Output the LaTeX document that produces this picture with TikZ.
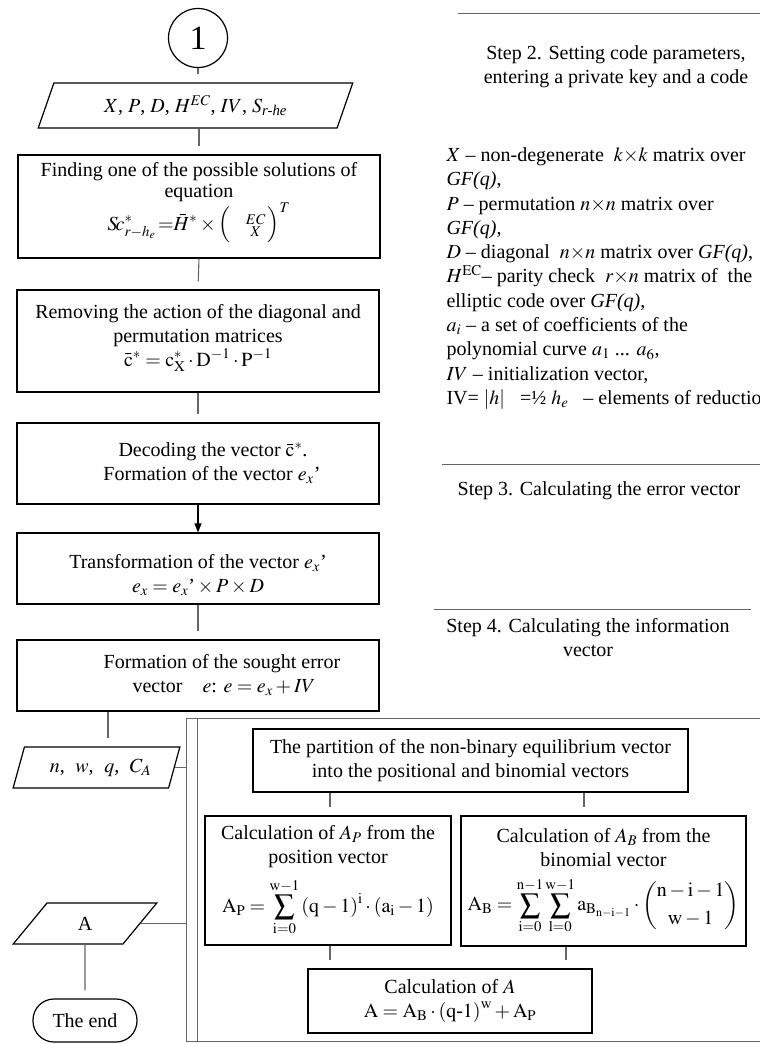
\documentclass[tikz,border=0pt]{standalone}
\usepackage{amsmath}
\usepackage{mathptmx}
\usepackage[no-math]{fontspec}
\setmainfont{Liberation Serif}
\usetikzlibrary{shapes.geometric,arrows.meta,calc}

\begin{document}
\begin{tikzpicture}[
    x=1pt,y=-1pt,
    font=\fontsize{20}{24}\selectfont,
    box/.style={draw,line width=1.2pt,minimum width=362pt,inner sep=0pt,align=center},
    subbox/.style={draw,line width=1.2pt,inner sep=0pt,align=center},
    io/.style={draw,line width=1.2pt,trapezium,trapezium left angle=64,trapezium right angle=116,
               trapezium stretches=true,inner sep=0pt},
    link/.style={draw=black!60,line width=1.1pt,shorten >=8pt},
    sidelink/.style={draw=black!60,line width=1.1pt},
    arrowline/.style={draw=black,line width=1.1pt,>={Triangle[length=9pt,width=7pt]}},
    frameline/.style={draw=black!60,line width=1pt},
    rule/.style={draw=black!60,line width=1pt},
  ]

  \useasboundingbox (0,0) rectangle (760,1044);

  % main column

  \node (start) at (198,38) [circle,draw,line width=1.2pt,minimum size=59pt,inner sep=0pt,
                            font=\fontsize{34}{40}\selectfont] {1};

  \node (in1) at (195.5,105.5) [io,minimum width=315pt,minimum height=45pt]
    {$X$, $P$, $D$, $H^{EC}$, $IV$, $S_{\textit{r-he}}$};

  \node (b1) at (199,206.5) [box,minimum height=103pt,font=\fontsize{20}{21}\selectfont]
    {Finding one of the possible solutions of\\equation\\
     $S\!c^{*}_{r-h_e}\!=\!\!\bar{H}^{*}\times\Bigl(\;\;\;\begin{smallmatrix}EC\\X\end{smallmatrix}\Bigr)^{T}$\rule[-20pt]{0pt}{20pt}};

  \node (b2) at (198,341) [box,minimum height=102pt]
    {Removing the action of the diagonal and\\permutation matrices\\
     $\bar{\mathrm{c}}^{*}=\mathrm{c}^{*}_{\mathrm{X}}\cdot\mathrm{D}^{-1}\cdot\mathrm{P}^{-1}$\rule[-12pt]{0pt}{12pt}};

  \node (b3) at (198,463.5) [box,minimum height=81pt]
    {\hspace*{30pt}Decoding the vector $\bar{\mathrm{c}}^{*}$.\\\hspace*{28pt}Formation of the vector $e_x$'};

  \node (b4) at (198,568.5) [box,minimum height=71pt]
    {\rule{0pt}{28pt}Transformation of the vector $e_x$'\\$e_x=e_x$'${}\times P\times D$};

  \node (b5) at (198,675.5) [box,minimum height=71pt]
    {\hspace*{48pt}Formation of the sought error\\\hspace*{52pt}vector\quad$e$: $e=e_x+IV$};

  % input, output and end

  \node (in2) at (96.5,767.5) [io,minimum width=167pt,minimum height=41pt] {\hspace*{8pt}$n$,\; $w$,\; $q$,\; $C_A$};
  \node (outA) at (85,923.5) [io,minimum width=144pt,minimum height=41pt] {A};
  \node (stop) at (85,1020.5) [draw,line width=1.2pt,rounded corners=21pt,minimum width=104pt,
                               minimum height=43pt,inner sep=0pt] {The end};

  % frame of step 4

  \node (frame) at (476,879.5) [draw=black!60,line width=1pt,minimum width=580pt,minimum height=323pt,inner sep=0pt] {};
  \draw[frameline] ($(frame.north west)+(12,0)$) -- ($(frame.south west)+(12,0)$);

  \node (part) at (470.5,760.5) [subbox,minimum width=435pt,minimum height=63pt]
    {The partition of the non-binary equilibrium vector\\into the positional and binomial vectors};

  \node (calcP) at (328,880.5) [subbox,minimum width=246pt,minimum height=129pt]
    {Calculation of $A_P$ from the\\position vector\\[10pt]
     $\mathrm{A_P}=\displaystyle\sum_{\mathrm{i=0}}^{\mathrm{w-1}}\left(\mathrm{q}-1\right)^{\mathrm{i}}\cdot\left(\mathrm{a_i}-1\right)$};

  \node (calcB) at (603.5,881) [subbox,minimum width=285pt,minimum height=130pt]
    {Calculation of $A_B$ from the\\binomial vector\\[10pt]
     $\mathrm{A_B}=\displaystyle\sum_{\mathrm{i=0}}^{\mathrm{n-1}}\sum_{\mathrm{l=0}}^{\mathrm{w-1}}\mathrm{a}_{\mathrm{B}_{\mathrm{n-i-1}}}\cdot\left(\begin{matrix}\mathrm{n-i-1}\\[4pt]\mathrm{w-1}\end{matrix}\right)$};

  \node (calcA) at (450,1001) [subbox,minimum width=284pt,minimum height=64pt]
    {Calculation of $A$\\$\mathrm{A}=\mathrm{A_B}\cdot\left(\mathrm{q}\text{-}1\right)^{\mathrm{w}}+\mathrm{A_P}$};

  \coordinate (colN) at (108,0);
  \coordinate (colL) at (330,0);
  \coordinate (colR) at (584,0);
  \coordinate (colS) at (566,0);

  % connectors

  \draw[link] (start.south) -- (start.south |- in1.north);
  \draw[link] (b1.north |- in1.south) -- (b1.north);
  \draw[link] (b1.south) -- (b2.north);
  \draw[link] (b2.south) -- (b3.north);
  \draw[arrowline,->] (b3.south) -- (b4.north);
  \draw[link] (b4.south) -- (b5.north);
  \draw[link] (b5.south -| colN) -- (in2.north -| colN);
  \draw[sidelink] (in2.east) -- (in2.east -| frame.west);
  \draw[sidelink] (outA.east) -- (outA.east -| frame.west);
  \draw[link] (outA.south) -- (stop.north);

  \draw[link] (part.south -| colL) -- (calcP.north -| colL);
  \draw[link] (part.south -| colR) -- (calcB.north -| colR);
  \draw[link] (calcP.south -| colL) -- (calcA.north -| colL);
  \draw[link] (calcB.south -| colS) -- (calcA.north -| colS);

  % step texts on the right

  \draw[rule] (458,13) -- (766,13);
  \node (step2) at (616,67) [align=center] {Step 2. Setting code parameters,\\entering a private key and a code};

  \node (params) at (443,278.5) [anchor=west,align=left,font=\fontsize{20}{24.3}\selectfont]
    {$X$ -- non-degenerate\ \ $k{\times}k$ matrix over\\
     \textit{GF(q)},\\
     $P$ -- permutation $n{\times}n$ matrix over\\
     \textit{GF(q)},\\
     $D$ -- diagonal\ \ $n{\times}n$ matrix over \textit{GF(q)},\\
     $H^{\mathrm{EC}}$-- parity check\ \ $r{\times}n$ matrix of\ \ the\\
     elliptic code over \textit{GF(q)},\\
     $a_i$ -- a set of coefficients of the\\
     polynomial curve $a_1$ ... $a_6$,\\
     $IV$ -- initialization vector,\\
     IV= $|h|$\ \ \ =½ $h_e$\ \ \ -- elements of reduction};

  \draw[rule] (442,464) -- (766,464);
  \node (step3) at (599,491) {Step 3. Calculating the error vector};

  \draw[rule] (434,609) -- (751,609);
  \node (step4) at (588,638) [align=center] {Step 4. Calculating the information\\vector};

\end{tikzpicture}
\end{document}
